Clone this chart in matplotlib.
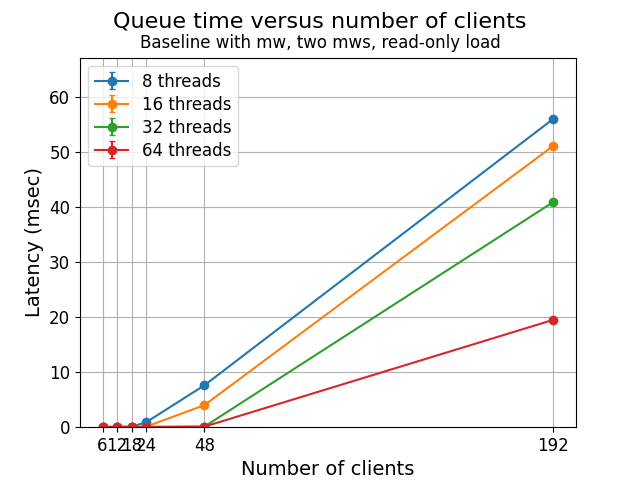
import numpy as np
import matplotlib
matplotlib.use("Agg")
import matplotlib.pyplot as plt

# clients and mean queue time (msec) per thread count
clients = [6, 12, 18, 24, 48, 192]
lat_8 = [0.05, 0.05, 0.1, 0.9, 7.6, 56.0]
lat_16 = [0.05, 0.05, 0.05, 0.1, 4.0, 51.1]
lat_32 = [0.05, 0.05, 0.05, 0.05, 0.1, 40.9]
lat_64 = [0.05, 0.05, 0.05, 0.05, 0.1, 19.5]
err_8 = [0.01, 0.01, 0.02, 0.1, 0.2, 0.3]
err_16 = [0.01, 0.01, 0.01, 0.02, 0.2, 0.3]
err_32 = [0.01, 0.01, 0.01, 0.01, 0.02, 0.3]
err_64 = [0.01, 0.01, 0.01, 0.01, 0.02, 0.3]

series = [("8 threads", lat_8, err_8), ("16 threads", lat_16, err_16),
          ("32 threads", lat_32, err_32), ("64 threads", lat_64, err_64)]

fig = plt.figure(figsize=(6.4, 4.8), dpi=100)
ax = fig.add_subplot(111)
for name, y, e in series:
    ax.errorbar(clients, y, yerr=e, marker='o', capsize=2, label=name)

fig.text(0.5, 0.955, "Queue time versus number of clients", fontsize=16,
         ha='center', va='center')
fig.text(0.5, 0.91, "Baseline with mw, two mws, read-only load", fontsize=12,
         ha='center', va='center')
ax.set_xlabel("Number of clients", fontsize=14)
ax.set_ylabel("Latency (msec)", fontsize=14)
ax.set_xticks(clients)
ax.tick_params(labelsize=12)
ax.set_ylim(0, 67.1)
ax.grid(True)
ax.legend(loc="upper left", fontsize=12, labelspacing=0.3)
fig.savefig("out.png")
